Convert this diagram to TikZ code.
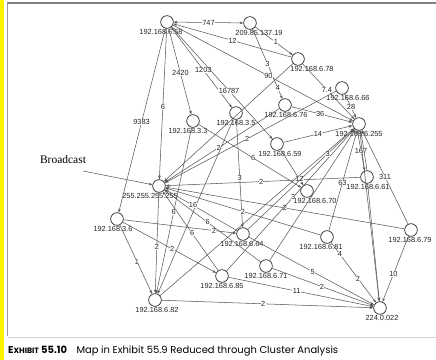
\documentclass[tikz,border=0pt]{standalone}
\usepackage{fontspec}
\setmainfont{Liberation Sans}
\newfontfamily\serifbc{Liberation Serif}
\newfontfamily\capfont{Poppins}
\usetikzlibrary{arrows.meta}
\newdimen\pxu \pxu=0.03cm
\newcommand\host[5]{\node[host,label={[hl,xshift=#4\pxu]below:#5}] (#1) at (#2,#3) {};}
\tikzset{
  >={Stealth[length=3.2pt,width=2.3pt]},
  host/.style={circle,draw=black!85,line width=0.6pt,minimum size=0.38cm,inner sep=0pt},
  hl/.style={font=\fontsize{6.3}{7}\selectfont,text=black!85,inner sep=0.6pt},
  edge/.style={->,draw=black!66,line width=0.45pt},
  edgeb/.style={<->,draw=black!66,line width=0.45pt},
  el/.style={font=\fontsize{6.3}{7}\selectfont,fill=white,inner sep=0.3pt,text=black!85},
}
\begin{document}
\begin{tikzpicture}[x=0.03cm,y=-0.03cm]
\useasboundingbox (0,0) rectangle (436,360);
\fill[white] (0,0) rectangle (436,360);
\fill[yellow] (0,0) rectangle (4,360);
\draw[gray,line width=1.1pt] (7,3) -- (436,3);
\draw[gray!80,line width=0.6pt] (7.5,3) -- (7.5,336);
\draw[gray!35,line width=0.4pt] (7.5,337) -- (436,337);

\host{n58}{167}{22}{-6}{192.168.6.58}
\host{n209}{250}{23}{9}{209.85.137.19}
\host{n78}{298}{59}{14}{192.168.6.78}
\host{n66}{342}{88}{6}{192.168.6.66}
\host{n76}{285}{105}{1}{192.168.6.76}
\host{n255}{359}{124}{0}{192.168.6.255}
\host{n35}{236}{113}{0}{192.168.3.5}
\host{n33}{193}{121}{-5}{192.168.3.3}
\host{n59}{277}{144}{3}{192.168.6.59}
\host{nbc}{159}{186}{-9}{255.255.255.255}
\host{n61}{367}{177}{1}{192.168.6.61}
\host{n70}{307}{191}{8}{192.168.6.70}
\host{n36}{117}{219}{-4}{192.168.3.6}
\host{n79}{411}{230}{-1}{192.168.6.79}
\host{n64}{243}{234}{-1}{192.168.6.64}
\host{n81}{327}{237}{-6}{192.168.6.81}
\host{n71}{266}{266}{0}{192.168.6.71}
\host{n85}{222}{276}{0}{192.168.6.85}
\host{n82}{155}{300}{2}{192.168.6.82}
\host{n224}{380}{308}{2}{224.0.022}

\node[font=\serifbc\fontsize{9.8}{11}\selectfont,inner sep=0pt] (bc) at (63,160) {Broadcast};
\coordinate (bcs) at (83,171);
\draw[edge] (bcs) -- (nbc);

\draw[edgeb] (n58) -- node[el]{747} (n209);
\draw[edge] (n78) -- node[el,pos=.5]{12} (n58);
\draw[edge] (n209) -- node[el,pos=.55]{1} (n78);
\draw[edge] (n209) -- node[el,pos=.5]{3} node[el,pos=.85]{4} (n76);
\draw[edge] (n58) -- node[el,pos=.53]{90} (n255);
\draw[edge] (n78) -- node[el,pos=.47]{7.4} (n255);
\draw[edge] (n66) -- node[el,pos=.55]{28} (n255);
\draw[edge] (n76) -- node[el,pos=.47]{36} (n255);
\draw[edge] (n59) -- node[el,pos=.5]{14} (n255);
\draw[edge] (n58) -- node[el,pos=.52]{2420} (n33);
\draw[edge] (n58) -- node[el,pos=.53]{1203} (n35);
\draw[edgeb] (n58) -- node[el,pos=.57]{16787} (n59);
\draw[edge] (n58) -- node[el,pos=.52]{6} (nbc);
\draw[edge] (n58) -- node[el,pos=.51]{9383} (n36);
\draw[edge] (n78) -- (nbc);
\draw[edge] (n76) -- node[el,pos=.53]{2} (nbc);
\draw[edge] (n66) -- node[el,pos=.52]{2} (nbc);
\draw[edge] (n255.-105) -- node[el]{167} (n61.110);
\draw[edge] (n61.90) -- (n255.-75);
\draw[edge] (n79) -- node[el,pos=.5]{311} (n255);
\draw[edge] (n81) -- node[el,pos=.48]{63} (n255);
\draw[edge] (n61) -- node[el,pos=.51]{2} (nbc);
\draw[edge] (n35) -- node[el,pos=.54]{3} (n64);
\draw[edge] (n79) -- node[el,pos=.58]{10} (n224);
\draw[edge] (n81) -- node[el,pos=.2]{4} node[el,pos=.6]{2} (n224);
\draw[edge] (n64) -- node[el,pos=.51]{5} (n224);
\draw[edge] (n71) -- node[el,pos=.49]{2} (n224);
\draw[edge] (n85) -- node[el,pos=.47]{11} (n224);
\draw[edge] (n82) -- node[el,pos=.48]{2} (n224);
\draw[edge] (n61) -- (n224);
\draw[edge] (n255) -- (n224);
\draw[edge] (n36) -- node[el,pos=.53]{1} (n82);
\draw[edge] (n36) -- node[el,pos=.53]{2} (n85);
\draw[edge] (n36) -- node[el,pos=.8]{2} (n64);
\draw[edge] (nbc) -- node[el,pos=.54]{2} (n82);
\draw[edge] (n33) -- node[el,pos=.51]{6} (n82);
\draw[edge] (n35) -- (n82);
\draw[edge] (n64) -- node[el,pos=.61]{16} (nbc);
\draw[edge] (n85) -- node[el,pos=.47]{6} (nbc);
\draw[edge] (n71) -- node[el,pos=.55]{6} (nbc);
\draw[edge] (n81) -- node[el,pos=.5]{2} (nbc);
\draw[edge] (n79) -- node[el,pos=.5]{2} (nbc);
\draw[edge] (n33) -- node[el,pos=.53]{6} (n70);
\draw[edge] (n59) -- node[el,pos=.83]{12} (n70);
\draw[edge] (n85) -- node[el,pos=.52]{3} (n255);
\draw[edge] (n64) -- node[el,pos=.75]{3} (n255);
\draw[edge] (n82) -- (n255);
\draw[edge] (n71) -- (n255);

\node[anchor=base west,inner sep=0pt] (cap) at (8,353)
  {\capfont\fontsize{8.5}{10}\selectfont\textbf{E{\fontsize{6.6}{8}\selectfont XHIBIT} 55.10}\hspace{8pt}Map in Exhibit 55.9 Reduced through Cluster Analysis};
\end{tikzpicture}
\end{document}
